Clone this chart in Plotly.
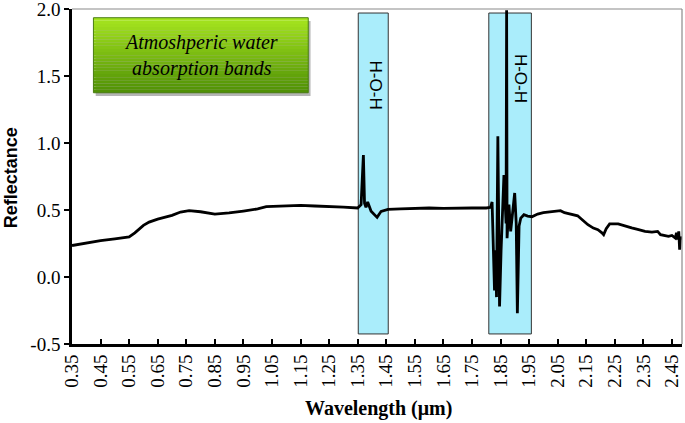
import plotly.graph_objects as go

# ---- data ----
wavelength = [0.35, 0.40, 0.45, 0.50, 0.53, 0.55, 0.57, 0.60, 0.62, 0.65, 0.70, 0.73, 0.76,
              0.80, 0.85, 0.90, 0.95, 1.00, 1.03, 1.08, 1.15, 1.20, 1.25, 1.30, 1.35,
              1.362, 1.370, 1.374, 1.379, 1.385, 1.397, 1.409, 1.418, 1.432, 1.456,
              1.50, 1.55, 1.60, 1.65, 1.70, 1.75, 1.80, 1.815,
              1.8205, 1.829, 1.833, 1.836, 1.8407, 1.8466, 1.852, 1.856, 1.862, 1.8695,
              1.8714, 1.873, 1.8795, 1.8855, 1.891, 1.8996, 1.905, 1.909, 1.915, 1.921,
              1.932, 1.945, 1.96, 1.98, 2.00, 2.03, 2.06, 2.074, 2.10, 2.12, 2.14, 2.156,
              2.175, 2.191, 2.205, 2.211, 2.22, 2.232, 2.262, 2.285, 2.309, 2.33, 2.356,
              2.38, 2.40, 2.41, 2.438, 2.45, 2.462, 2.466, 2.47, 2.474, 2.477, 2.48, 2.485]
reflectance = [0.235, 0.255, 0.272, 0.285, 0.292, 0.300, 0.330, 0.385, 0.410, 0.432, 0.460, 0.485, 0.495,
               0.487, 0.470, 0.478, 0.492, 0.508, 0.525, 0.530, 0.535, 0.530, 0.528, 0.522, 0.515,
               0.540, 0.910, 0.550, 0.520, 0.560, 0.490, 0.465, 0.445, 0.490, 0.505,
               0.508, 0.512, 0.515, 0.512, 0.515, 0.515, 0.515, 0.520,
               0.560, -0.100, 0.200, -0.150, 1.050, -0.220, 0.200, 0.450, 0.760, 0.400,
               1.990, 0.290, 0.540, 0.340, 0.450, 0.627, 0.400, -0.270, 0.380, 0.440,
               0.465, 0.455, 0.450, 0.470, 0.480, 0.490, 0.495, 0.480, 0.470, 0.457, 0.420, 0.390,
               0.365, 0.353, 0.330, 0.316, 0.360, 0.396, 0.396, 0.380, 0.366, 0.355, 0.340,
               0.335, 0.340, 0.316, 0.303, 0.310, 0.290, 0.330, 0.280, 0.340, 0.204, 0.300, 0.280]

x_tick_vals = [0.35, 0.45, 0.55, 0.65, 0.75, 0.85, 0.95, 1.05, 1.15, 1.25, 1.35, 1.45,
               1.55, 1.65, 1.75, 1.85, 1.95, 2.05, 2.15, 2.25, 2.35, 2.45]
x_tick_text = ["0.35", "0.45", "0.55", "0.65", "0.75", "0.85", "0.95", "1.05", "1.15", "1.25", "1.35", "1.45",
               "1.55", "1.65", "1.75", "1.85", "1.95", "2.05", "2.15", "2.25", "2.35", "2.45"]
y_tick_vals = [-0.5, 0.0, 0.5, 1.0, 1.5, 2.0]
y_tick_text = ["-0.5", "0.0", "0.5", "1.0", "1.5", "2.0"]

band_starts = [1.352, 1.809]
band_ends = [1.457, 1.958]
band_bottom = -0.425
band_top = 1.97
band_labels = ["H-O-H", "H-O-H"]
band_label_x = [1.4135, 1.921]
band_label_y = [1.43, 1.48]

box_x0, box_x1 = 0.425, 1.177
box_y0, box_y1 = 1.375, 1.935
box_text = "Atmoshperic water<br>absorption bands"

fig = go.Figure()
fig.add_trace(go.Scatter(x=wavelength, y=reflectance, mode="lines",
                         line=dict(color="black", width=2.8), showlegend=False,
                         cliponaxis=True))

shapes = []
for xs, xe in zip(band_starts, band_ends):
    shapes.append(dict(type="rect", xref="x", yref="y", x0=xs, x1=xe, y0=band_bottom, y1=band_top,
                       fillcolor="#aaedfb", line=dict(color="#333333", width=1), layer="below"))

# shadow of the green box
shapes.append(dict(type="rect", xref="x", yref="y", x0=box_x0 + 0.008, x1=box_x1 + 0.008,
                   y0=box_y0 - 0.025, y1=box_y1 - 0.025, fillcolor="rgba(90,90,90,0.45)",
                   line=dict(width=0), layer="above"))
# gradient green box built from strips
n = 24
top_c = (165, 228, 30)
bot_c = (80, 145, 5)
for i in range(n):
    t = i / (n - 1)
    c = tuple(int(round(top_c[k] + (bot_c[k] - top_c[k]) * t)) for k in range(3))
    ya = box_y1 - (box_y1 - box_y0) * i / n
    yb = box_y1 - (box_y1 - box_y0) * (i + 1) / n
    shapes.append(dict(type="rect", xref="x", yref="y", x0=box_x0, x1=box_x1, y0=yb, y1=ya,
                       fillcolor="rgb(%d,%d,%d)" % c, line=dict(width=0), layer="above"))
shapes.append(dict(type="rect", xref="x", yref="y", x0=box_x0, x1=box_x1, y0=box_y0, y1=box_y1,
                   fillcolor="rgba(0,0,0,0)", line=dict(color="#4a7d12", width=1), layer="above"))

# top and right frame lines
shapes.append(dict(type="line", xref="paper", yref="paper", x0=0, x1=1, y0=1, y1=1,
                   line=dict(color="#8a8a8a", width=1.2)))
shapes.append(dict(type="line", xref="paper", yref="paper", x0=1, x1=1, y0=0, y1=1,
                   line=dict(color="#8a8a8a", width=1.2)))

annotations = []
for lbl, lx, ly in zip(band_labels, band_label_x, band_label_y):
    annotations.append(dict(x=lx, y=ly, xref="x", yref="y", text=lbl, showarrow=False,
                            textangle=90, font=dict(family="Liberation Sans", size=17, color="black")))
annotations.append(dict(x=(box_x0 + box_x1) / 2, y=(box_y0 + box_y1) / 2, xref="x", yref="y",
                        text=box_text, showarrow=False,
                        font=dict(family="Liberation Serif", size=20, color="black", style="italic")))
annotations.append(dict(x=0.502, y=-0.193, xref="paper", yref="paper", text="<b>Wavelength (μm)</b>",
                        showarrow=False, xanchor="center", yanchor="middle",
                        font=dict(family="Liberation Serif", size=20, color="black")))
annotations.append(dict(x=-0.101, y=0.496, xref="paper", yref="paper", text="<b>Reflectance</b>",
                        showarrow=False, textangle=-90, xanchor="center", yanchor="middle",
                        font=dict(family="Liberation Sans", size=18, color="black")))

fig.update_layout(
    width=685, height=423,
    margin=dict(l=72, r=3, t=9, b=79, autoexpand=False),
    paper_bgcolor="white", plot_bgcolor="white",
    shapes=shapes, annotations=annotations,
    xaxis=dict(range=[0.35, 2.4853], tickvals=x_tick_vals, ticktext=x_tick_text, tickangle=-90,
               ticks="inside", ticklen=5, tickwidth=2, tickcolor="black", automargin=False,
               showline=True, linecolor="black", linewidth=2.6, showgrid=False, zeroline=False,
               ticklabeloverflow="allow",
               tickfont=dict(family="Liberation Serif", size=19, color="black")),
    yaxis=dict(range=[-0.5, 2.0001], tickvals=y_tick_vals, ticktext=y_tick_text, automargin=False,
               ticks="outside", ticklen=5, tickwidth=2, tickcolor="black",
               showline=True, linecolor="black", linewidth=2.6, showgrid=False, zeroline=False,
               ticklabeloverflow="allow",
               tickfont=dict(family="Liberation Serif", size=19, color="black")),
)

fig.write_html("out.html", config={"displayModeBar": False},
               post_script="document.body.style.margin='0';document.body.style.overflow='hidden';")
